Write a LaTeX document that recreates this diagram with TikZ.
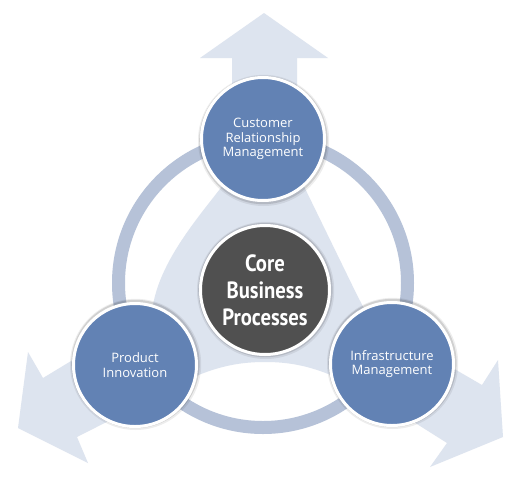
\documentclass[tikz,border=0pt]{standalone}
\usepackage{fontspec}
\setmainfont{Open Sans}
\newfontfamily\corefont[FakeStretch=0.88]{PT Sans}
\definecolor{arrowfill}{HTML}{DDE4EF}
\definecolor{ringcol}{HTML}{B6C2D8}
\definecolor{bluefill}{HTML}{6282B4}
\definecolor{darkfill}{HTML}{505050}
\begin{document}
\begin{tikzpicture}[x=1pt,y=-1pt,
  outercirc/.style={circle, draw=white, line width=3pt, inner sep=0pt, text=white, align=center},
  bluecirc/.style={outercirc, fill=bluefill, minimum size=123pt, font=\fontsize{13}{14.5}\selectfont},
  corecirc/.style={outercirc, fill=darkfill, minimum size=129pt, font=\corefont\bfseries\fontsize{23.5}{27}\selectfont},
  haloA/.style={fill=black, opacity=0.07},
  haloB/.style={fill=black, opacity=0.12},
  ringstyle/.style={draw=ringcol, line width=13pt}
]
\useasboundingbox (0,0) rectangle (525,480);
\fill[white] (0,0) rectangle (525,480);

% centres
\coordinate (cTop) at (263,139);
\coordinate (cLeft) at (135,363);
\coordinate (cRight) at (392,362);
\coordinate (cCore) at (265,289);
\coordinate (cRing) at (263,283);

% three-way arrow background
\fill[arrowfill] (264,13) -- (328,58) -- (297,58) -- (297,172)
  -- (357,295) -- (370,320) -- (482,385) -- (498,360) -- (503,437)
  -- (430,467) -- (447,443) -- (382,402)
  .. controls (330,370) and (300,362) .. (265,362)
  .. controls (230,362) and (200,370) .. (150,400)
  -- (77,437) -- (88,463) -- (18,428) -- (28,352) -- (43,378) -- (152,312)
  .. controls (158,255) and (215,200) .. (232,172)
  -- (232,58) -- (200,58) -- cycle;

% ring
\draw[ringstyle] (cRing) circle (144.5);

% soft shadows
\foreach \c/\r in {cTop/63, cLeft/63, cRight/63, cCore/66}{
  \fill[haloA] ([shift={(0.6,1.4)}]\c) circle (\r+2.6);
  \fill[haloB] ([shift={(0.4,1)}]\c) circle (\r+1.2);
}

% circles
\node[bluecirc] (crm) at (cTop) {Customer\\Relationship\\Management};
\node[bluecirc] (pi) at ([yshift=-2pt]cLeft) {Product\\Innovation};
\node[bluecirc] (im) at ([yshift=-2pt]cRight) {Infrastructure\\Management};
\node[corecirc] (core) at ([yshift=-1pt]cCore) {Core\\Business\\Processes};
\end{tikzpicture}
\end{document}
